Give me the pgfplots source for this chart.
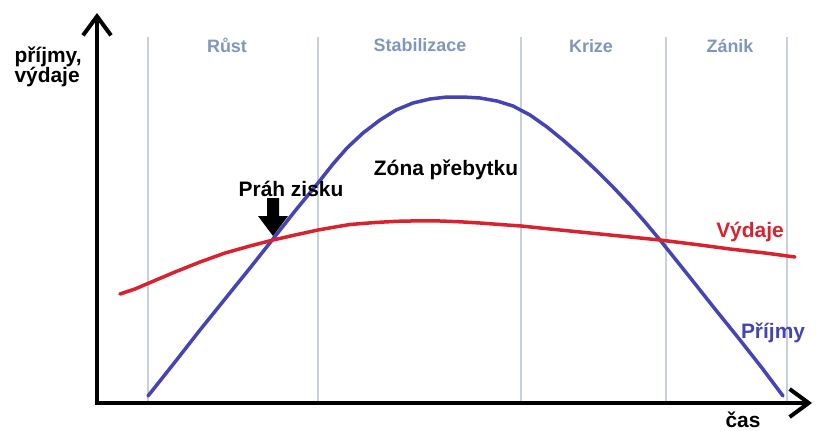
\documentclass[border=0pt]{standalone}
\usepackage{pgfplots}
\pgfplotsset{compat=1.18}
\usepackage{fontspec}
\setmainfont{Liberation Sans}
\usetikzlibrary{arrows.meta}
\definecolor{blu}{HTML}{4444B6}
\definecolor{rd}{HTML}{D8222E}
\definecolor{phase}{HTML}{7D97BD}
\definecolor{gridc}{HTML}{C8D0DA}
\begin{document}
\begin{tikzpicture}
\begin{axis}[
  scale only axis, width=816bp, height=430bp,
  xmin=0, xmax=816, ymin=0, ymax=430, y dir=reverse,
  axis lines=none, clip=false,
]
\path (axis cs:0,0) rectangle (axis cs:816,430);
% phase separators
\foreach \xx in {148,318,521,666,787}{
  \edef\tmp{\noexpand\draw[gridc, line width=1.5bp] (axis cs:\xx,37) -- (axis cs:\xx,403);}\tmp
}
% phase labels
\node[phase, font=\bfseries\fontsize{18}{18}\selectfont, anchor=base] at (axis cs:227,52) {Růst};
\node[phase, font=\bfseries\fontsize{18}{18}\selectfont, anchor=base] at (axis cs:420,51) {Stabilizace};
\node[phase, font=\bfseries\fontsize{18}{18}\selectfont, anchor=base] at (axis cs:591,52) {Krize};
\node[phase, font=\bfseries\fontsize{18}{18}\selectfont, anchor=base] at (axis cs:730,52) {Zánik};
% Příjmy (revenue)
\addplot[blu, line width=3.5bp, sharp plot, line join=round, line cap=round] coordinates {
 (148,396) (175,362) (200,330) (225,299) (250,268) (273,239) (295,211)
 (318,183) (333,164) (347,148) (363,133) (380,120) (396,110) (413,103)
 (430,99) (447,97) (463,97) (480,98) (497,101) (513,106) (530,115)
 (547,127) (563,140) (580,155) (597,171) (613,187) (630,205) (645,222)
 (660,240) (676,260) (692,280) (715,309) (740,340) (762,368) (783,396)};
% Výdaje (costs)
\addplot[rd, line width=3.5bp, sharp plot, line join=round, line cap=round] coordinates {
 (120,294) (135,289) (149,283) (175,272) (200,262) (225,253) (250,246)
 (273,240) (295,235) (318,230) (335,227) (350,224.5) (375,222.5) (397,221.3)
 (420,220.8) (440,221) (460,221.8) (480,223) (500,224.5) (521,226)
 (550,229) (580,232) (620,236) (660,240) (700,245) (730,249) (765,253) (795,257)};
% axes
\draw[line width=4bp, {Straight Barb[length=19bp,width=28bp]}-{Straight Barb[length=19bp,width=28bp]}]
  (axis cs:97,13) -- (axis cs:97,403) -- (axis cs:812,403);
% threshold arrow
\fill[black] (axis cs:267,198) -- (axis cs:279,198) -- (axis cs:279,216) -- (axis cs:288,216)
  -- (axis cs:273,236) -- (axis cs:258,216) -- (axis cs:267,216) -- cycle;
% texts
\node[font=\bfseries\fontsize{21}{21}\selectfont, anchor=base west] at (axis cs:11,62) {příjmy,};
\node[font=\bfseries\fontsize{21}{21}\selectfont, anchor=base west] at (axis cs:11,82) {výdaje};
\node[font=\bfseries\fontsize{21}{21}\selectfont, anchor=base] at (axis cs:446,175) {Zóna přebytku};
\node[font=\bfseries\fontsize{21}{21}\selectfont, anchor=base] at (axis cs:291,196) {Práh zisku};
\node[rd, font=\bfseries\fontsize{21}{21}\selectfont, anchor=base] at (axis cs:750,237) {Výdaje};
\node[blu, font=\bfseries\fontsize{21}{21}\selectfont, anchor=base] at (axis cs:773,338) {Příjmy};
\node[font=\bfseries\fontsize{21}{21}\selectfont, anchor=base] at (axis cs:743,427) {čas};
\end{axis}
\end{tikzpicture}
\end{document}
